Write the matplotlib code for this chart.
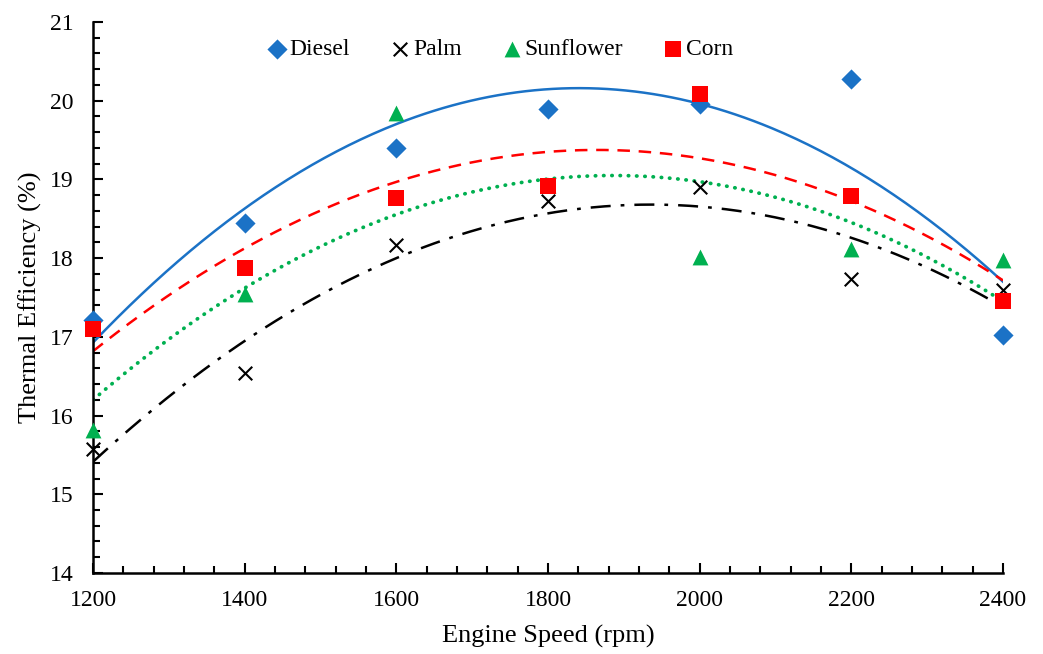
import numpy as np
import matplotlib
matplotlib.use("Agg")
import matplotlib.pyplot as plt
from matplotlib.ticker import MultipleLocator

plt.rcParams['font.family'] = ['Liberation Serif', 'DejaVu Serif']

speed = [1200, 1400, 1600, 1800, 2000, 2200, 2400]
diesel = [17.22, 18.45, 19.40, 19.89, 19.96, 20.27, 17.02]
palm = [15.57, 16.54, 18.17, 18.72, 18.90, 17.73, 17.59]
sunflower = [15.81, 17.55, 19.84, 18.93, 18.02, 18.12, 17.98]
corn = [17.10, 17.87, 18.77, 18.91, 20.08, 18.79, 17.45]

series = [
    ("Diesel", diesel, "#1B72C6", "D", "-", 9),
    ("Palm", palm, "#000000", "x", (0, (8, 4, 1.5, 4)), 10),
    ("Sunflower", sunflower, "#00B050", "^", (0, (0.1, 2.1)), 10),
    ("Corn", corn, "#FF0000", "s", (0, (5, 3.5)), 10),
]

fig = plt.figure(figsize=(10.43, 6.54), dpi=100)
ax = fig.add_axes([0.0892, 0.1239, 0.9617 - 0.0892, 0.9664 - 0.1239])

x = np.array(speed, dtype=float)
xs = np.linspace(1200, 2400, 300)
for name, vals, col, mk, ls, ms in series:
    coef = np.polyfit(x, np.array(vals), 2)
    capstyle = 'round' if name == "Sunflower" else 'butt'
    lw = 2.7 if name == "Sunflower" else 1.8
    ax.plot(xs, np.polyval(coef, xs), color=col, linestyle=ls, linewidth=lw,
            dash_capstyle=capstyle, zorder=2)

handles = []
for name, vals, col, mk, ls, ms in series:
    if mk == "x":
        h = ax.scatter(x, vals, marker="x", s=95, color=col, linewidths=1.5,
                       zorder=3, label=name, clip_on=False)
    else:
        h = ax.scatter(x, vals, marker=mk, s=ms**2 * 1.3, color=col,
                       linewidths=0, zorder=3, label=name, clip_on=False)
    handles.append(h)

ax.set_xlim(1200, 2400)
ax.set_ylim(14, 21)
ax.xaxis.set_major_locator(MultipleLocator(200))
ax.xaxis.set_minor_locator(MultipleLocator(40))
ax.yaxis.set_major_locator(MultipleLocator(1))
ax.yaxis.set_minor_locator(MultipleLocator(0.2))

for s in ["top", "right"]:
    ax.spines[s].set_visible(False)
for s in ["left", "bottom"]:
    ax.spines[s].set_linewidth(1.8)

ax.tick_params(axis='both', which='major', direction='in', length=7, width=1.5,
               labelsize=17)
ax.tick_params(axis='both', which='minor', direction='in', length=5, width=1.5)
ax.tick_params(axis='x', which='major', pad=12)
ax.tick_params(axis='y', which='major', pad=14)

ax.set_xlabel("Engine Speed (rpm)", fontsize=19, labelpad=10)
ax.set_ylabel("Thermal Efficiency (%)", fontsize=19, labelpad=6)

ax.legend(handles=handles, loc='upper left', bbox_to_anchor=(0.181, 0.987),
          ncol=4, frameon=False, fontsize=17, handlelength=0.8,
          handletextpad=0.15, columnspacing=1.72, scatterpoints=1,
          borderaxespad=0.0)

fig.savefig("out.png", dpi=100)
